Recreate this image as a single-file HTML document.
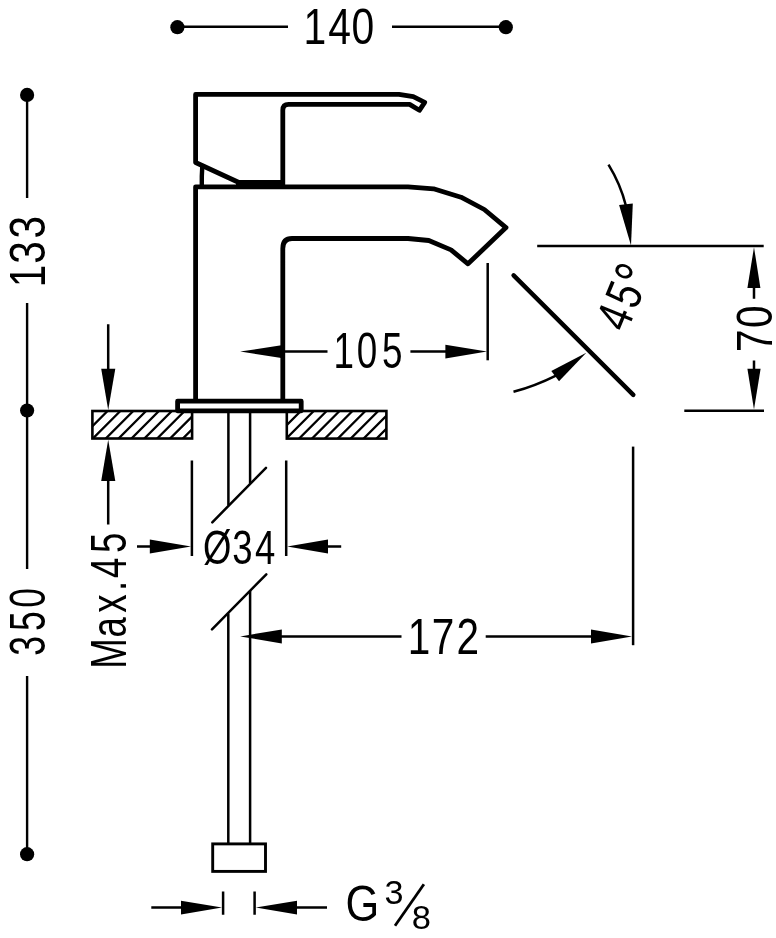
<!DOCTYPE html>
<html>
<head>
<meta charset="utf-8">
<title>Drawing</title>
<style>
html,body{margin:0;padding:0;background:#fff;}
body{width:776px;height:938px;overflow:hidden;}
svg{display:block;filter:grayscale(1);}
text{font-family:"Liberation Sans",sans-serif;fill:#000;}
.k{fill:none;stroke:#000;stroke-width:4.8;stroke-linejoin:round;stroke-linecap:butt;}
.t{fill:none;stroke:#000;stroke-width:2.5;stroke-linecap:butt;}
.a{fill:#000;stroke:none;}
</style>
</head>
<body>
<svg width="776" height="938" viewBox="0 0 776 938">
<rect x="0" y="0" width="776" height="938" fill="#fff"/>

<!-- ===== 140 top dimension ===== -->
<g id="d140">
<circle class="a" cx="177.4" cy="27.2" r="7.1"/>
<circle class="a" cx="505.8" cy="27.2" r="7.1"/>
<path class="t" style="stroke-width:2.4" d="M177 26.8H288M392 26.8H505"/>
<text transform="translate(0 43.6) scale(0.827 1)" font-size="49.4" x="367.1 396.8 425">140</text>
</g>

<!-- ===== left 133 / 350 dimension ===== -->
<g id="dleft">
<circle class="a" cx="27.1" cy="94.9" r="7.1"/>
<circle class="a" cx="27.1" cy="410.5" r="7.1"/>
<circle class="a" cx="27.1" cy="854.2" r="7.1"/>
<path class="t" style="stroke-width:2.4" d="M27.1 95V198M27.1 303V569M27.1 676V854"/>
<text transform="translate(44.6 300) rotate(-90) scale(0.812 1)" font-size="50" x="15.7 44.7 75.6">133</text>
<text transform="translate(45.1 700) rotate(-90) scale(0.710 1)" font-size="50" x="62.3 97.3 129.8">350</text>
</g>

<!-- ===== faucet outline ===== -->
<g id="faucet">
<!-- handle -->
<path class="k" d="M240 183L195.6 162.5V94.4H399L413.3 96.7L424.7 102.3L419.4 110.3L409.6 104.4H288.6Q282.8 104.4 282.8 110.2V185"/>
<path d="M236 183.6H283" fill="none" stroke="#000" stroke-width="7"/>
<path d="M202.3 166Q201.6 176 201.8 186" fill="none" stroke="#000" stroke-width="4.4"/>
<!-- body + spout -->
<path class="k" d="M195.6 401V186.8H408L433.5 188.8L461 197.2L484.3 209.5L506 227.6L468 263.8L451 249.9L428.8 240.5L408 238.5H292Q282.8 238.5 282.8 248.5V401"/>
<!-- base plate -->
<rect class="k" x="177.6" y="401.2" width="123.6" height="9.6"/>
</g>

<!-- ===== hatched counter top ===== -->
<defs>
<clipPath id="cl"><rect x="92.4" y="411" width="99.7" height="27.5"/></clipPath>
<clipPath id="cr"><rect x="286.8" y="411" width="99.6" height="27.8"/></clipPath>
</defs>
<g clip-path="url(#cl)" class="t" style="stroke-width:2.3">
<path d="M79.8 438.8l28-28M92.6 438.8l28-28M105.5 438.8l28-28M118.3 438.8l28-28M131.2 438.8l28-28M144.1 438.8l28-28M156.9 438.8l28-28M169.8 438.8l28-28M182.6 438.8l28-28"/>
</g>
<g clip-path="url(#cr)" class="t" style="stroke-width:2.3">
<path d="M260.2 438.8l28-28M273.1 438.8l28-28M286.0 438.8l28-28M298.9 438.8l28-28M311.8 438.8l28-28M324.7 438.8l28-28M337.6 438.8l28-28M350.5 438.8l28-28M363.4 438.8l28-28M376.3 438.8l28-28"/>
</g>
<rect class="t" x="92.4" y="411" width="99.7" height="27.5" style="stroke-width:2.6"/>
<rect class="t" x="286.8" y="411" width="99.6" height="27.6" style="stroke-width:2.6"/>

<!-- ===== pipe ===== -->
<g id="pipe" class="t" style="stroke-width:2.5">
<path d="M228.4 412V505.5M250.1 412V483.5"/>
<path d="M212.3 522.3L266 467.8" stroke-linecap="round"/>
<path d="M212 629.4L266.3 574.3" stroke-linecap="round"/>
<path d="M228.3 613.5V843M250.1 591V843"/>
<rect x="212.7" y="843.9" width="52.8" height="27.5" style="stroke-width:2.9"/>
</g>

<!-- ===== Max.45 ===== -->
<g id="max45">
<path class="t" d="M108.2 324.2V372M108.2 478V524.6"/>
<path class="a" d="M108.2 410L101.2 368.8H115.3Z"/>
<path class="a" d="M108.2 439.8L101.2 480.9H115.3Z"/>
<text transform="translate(125.6 700) rotate(-90) scale(0.731 1)" font-size="50" x="42.7 85.5 119.4 149.1 166.9 201.0">Max.45</text>
</g>

<!-- ===== diameter 34 ===== -->
<g id="d34">
<path class="t" d="M191.9 460.5V556M286.2 460.5V556"/>
<path class="t" d="M137 546.5H152M326 546.5H341.2"/>
<path class="a" d="M191 546.5L149.8 539.5V553.5Z"/>
<path class="a" d="M287.2 546.5L328 539.5V553.5Z"/>
<text transform="translate(0 563.6) scale(0.745 1)" font-size="49" x="272.4 311.8 342.2">Ø34</text>
</g>

<!-- ===== 105 ===== -->
<g id="d105">
<path class="t" d="M487.7 263V360.3"/>
<path class="t" d="M281 351.6H327.5M410.4 351.6H448"/>
<path class="a" d="M240.2 351.6L283 345V358.2Z"/>
<path class="a" d="M487 351.6L445.4 344.8V358.4Z"/>
<text transform="translate(0 367.7) scale(0.737 1)" font-size="50" x="452.5 484.1 518.2">105</text>
</g>

<!-- ===== 172 ===== -->
<g id="d172">
<path class="t" d="M633.1 446.6V645.2"/>
<path class="t" d="M279 636.4H401.5M485.7 636.4H594"/>
<path class="a" d="M240.2 636.4L281.8 629.4V643.4Z"/>
<path class="a" d="M632 636.5L591 629.5V643.5Z"/>
<text transform="translate(0 653.5) scale(0.811 1)" font-size="50" x="502.8 532.3 563.0">172</text>
</g>

<!-- ===== 45 degree / 70 ===== -->
<g id="d45">
<path class="t" style="stroke-width:2.5" d="M537.2 246.1H763.7M684.3 410.8H764"/>
<path d="M513.6 275.4L633.3 394.8" fill="none" stroke="#000" stroke-width="4.5" stroke-linecap="round"/>
<!-- arcs (centre 483.5,245.5 r 148) -->
<path class="t" d="M608.5 164.7A148.5 148.5 0 0 1 626 206"/>
<path class="a" d="M631 245.6L619.1 205.1L632.8 203.4Z"/>
<path class="t" d="M513.5 391.8Q535 386 556.5 375.3"/>
<path class="a" d="M586.3 352.8L559 381.2L551.3 370.9Z"/>
<text transform="translate(632.7 318.6) rotate(-67.5) scale(0.765 1)" font-size="50" x="-21.2 11.0 40.0">45<tspan font-size="64" dy="9.5">°</tspan></text>
<!-- 70 -->
<path class="t" d="M754 285V298.8M754 360.5V372"/>
<path class="a" d="M754 247.2L747.4 288H760.4Z"/>
<path class="a" d="M754 409.6L747.4 368.8H760.6Z"/>
<text transform="translate(771.8 400) rotate(-90) scale(0.811 1)" font-size="50" x="59.2 88.9">70</text>
</g>

<!-- ===== G 3/8 ===== -->
<g id="g38">
<path class="t" d="M223.1 891.4V914.8M254.6 891.4V914.8"/>
<path class="t" d="M151.3 907.6H184M294 907.6H327"/>
<path class="a" d="M222 907.6L181 900.8V914.4Z"/>
<path class="a" d="M255.8 907.6L297 900.8V914.4Z"/>
<text transform="translate(0 920.5) scale(0.867 1)" font-size="50" x="398.6">G</text>
<text transform="translate(0 904) scale(1.02 1)" font-size="33.5" x="376.9">3</text>
<text transform="translate(0 928.5) scale(1.021 1)" font-size="33.8" x="403.4">8</text>
<path d="M395 925.7L423.9 884.2" fill="none" stroke="#000" stroke-width="2.8"/>
</g>
</svg>
</body>
</html>
